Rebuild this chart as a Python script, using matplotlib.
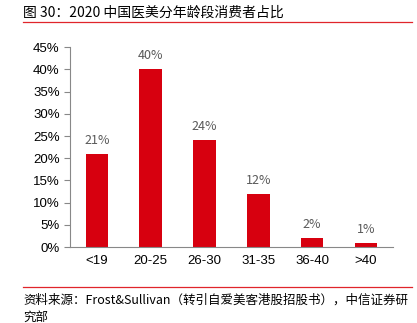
import matplotlib.pyplot as plt
from matplotlib.lines import Line2D

plt.rcParams['font.family'] = ['Noto Sans CJK SC', 'DejaVu Sans']

ages = ['<19', '20-25', '26-30', '31-35', '36-40', '>40']
share = [21, 40, 24, 12, 2, 1]
yticks = [0, 5, 10, 15, 20, 25, 30, 35, 40, 45]

fig = plt.figure(figsize=(4.17, 3.23), dpi=100)
ax = fig.add_axes([0.168, 0.235, 0.774, 0.619])

ax.bar(range(len(ages)), share, width=0.42, color='#D7000F')
for i, v in enumerate(share):
    ax.text(i, v + 1.6, '%d%%' % v, ha='center', va='bottom', fontsize=9, color='#595959')

ax.set_xlim(-0.5, len(ages) - 0.5)
ax.set_ylim(0, 45)
ax.set_yticks(yticks)
ax.set_yticklabels(['%d%%' % t for t in yticks], family=['Liberation Sans'])
ax.set_xticks(range(len(ages)))
ax.set_xticklabels(ages, family=['Liberation Sans'])
ax.tick_params(axis='y', labelsize=9.5, length=4, color='#888888', direction='out')
ax.tick_params(axis='x', labelsize=9.5, length=0, pad=6)
for s in ['top', 'right']:
    ax.spines[s].set_visible(False)
ax.spines['left'].set_color('#888888')
ax.spines['bottom'].set_color('#888888')

fig.text(0.055, 0.962, '图 30：2020 中国医美分年龄段消费者占比', fontsize=10, va='center')
fig.add_artist(Line2D([0.055, 0.988], [0.932, 0.932], color='#E0252B', lw=0.9))
fig.add_artist(Line2D([0.055, 0.988], [0.112, 0.112], color='#E0252B', lw=0.9))
fig.text(0.055, 0.072, '资料来源：Frost&Sullivan（转引自爱美客港股招股书），中信证券研', fontsize=9, va='center')
fig.text(0.055, 0.018, '究部', fontsize=9, va='center')

fig.savefig('out.png', dpi=100)
